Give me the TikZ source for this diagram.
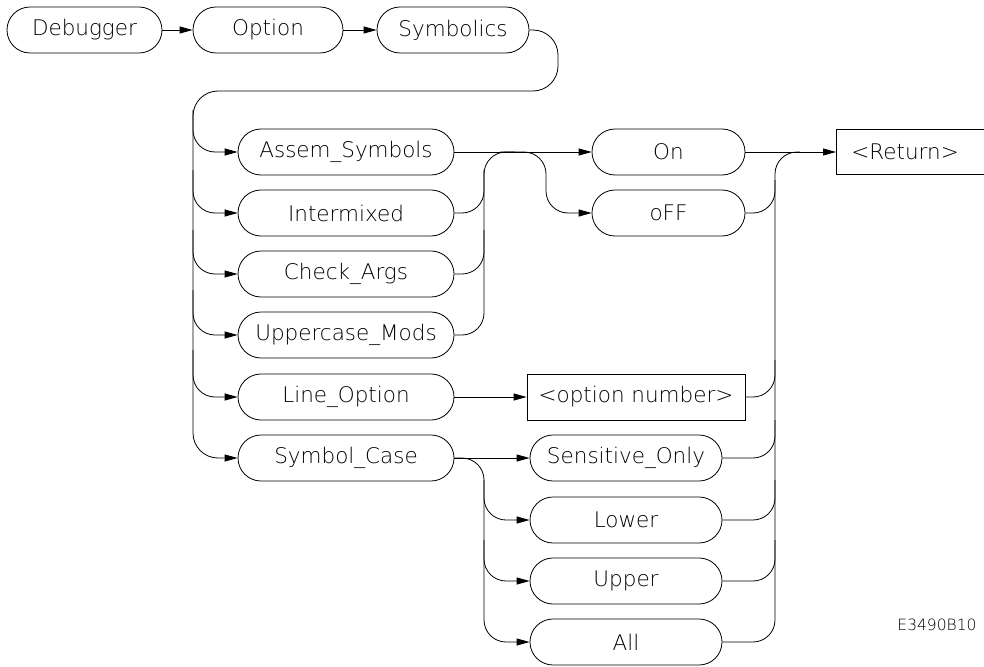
\documentclass[tikz,border=0pt]{standalone}
\usepackage{fontspec}
\setmainfont{DejaVu Sans ExtraLight}
\usetikzlibrary{arrows.meta,shapes.misc}
\begin{document}
\begin{tikzpicture}[x=1pt,y=-1pt,
  lbl/.style={font=\fontsize{21.5}{24}\selectfont},
  term/.style={draw, rounded rectangle, minimum height=46pt, inner sep=0pt, line width=0.8pt, lbl},
  lit/.style={draw, rectangle, minimum height=46pt, inner sep=0pt, line width=0.8pt, lbl},
  conn/.style={line width=0.8pt},
  arr/.style={conn, -{Triangle[length=13pt,width=7pt]}},
  rc/.style={rounded corners=22pt}]
\clip (0,0) rectangle (984,666);
% top row
\node[term, minimum width=155pt] (deb) at (84.5,30) {Debugger};
\node[term, minimum width=150pt] (opt) at (268,30) {Option};
\node[term, minimum width=152pt] (sym) at (453,30) {Symbolics};
% left column
\node[term, minimum width=216pt] (assem) at (346,152) {Assem\_Symbols};
\node[term, minimum width=216pt] (inter) at (346,213) {Intermixed};
\node[term, minimum width=216pt] (check) at (346,274) {Check\_Args};
\node[term, minimum width=216pt] (upmods) at (346,335) {Uppercase\_Mods};
\node[term, minimum width=216pt] (lineopt) at (346,397) {Line\_Option};
\node[term, minimum width=216pt] (symcase) at (346,458) {Symbol\_Case};
% middle column
\node[term, minimum width=153pt] (on) at (668.5,152) {On};
\node[term, minimum width=153pt] (off) at (668.5,213) {oFF};
\node[lit, minimum width=218pt] (optnum) at (636,397) {<option number>};
\node[term, minimum width=192pt] (sens) at (626,458) {Sensitive\_Only};
\node[term, minimum width=192pt] (lower) at (626,520) {Lower};
\node[term, minimum width=192pt] (upper) at (626,581) {Upper};
\node[term, minimum width=192pt] (all) at (626,642) {All};
% return
\node[lit, anchor=west, text width=150pt, align=left, inner xsep=15pt, minimum height=45pt] (ret) at (836,152) {<Return>};
\node[font=\fontsize{15.5}{18}\selectfont] (code) at (937,625) {E3490B10};
% top connectors
\draw[arr] (deb.east) -- (opt.west);
\draw[arr] (opt.east) -- (sym.west);
\draw[arr, rounded corners=25pt] (sym.east) -| (558,91) -| (193,458) -- (symcase.west);
% left branches
\draw[arr, rc] (193,110) |- (assem.west);
\draw[arr, rc] (193,170) |- (inter.west);
\draw[arr, rc] (193,230) |- (check.west);
\draw[arr, rc] (193,290) |- (upmods.west);
\draw[arr, rc] (193,350) |- (lineopt.west);
% assem etc. to on/off
\draw[arr] (assem.east) -- (on.west);
\draw[conn, rc] (upmods.east) -| (484,152) -- (515,152);
\draw[conn, rc] (inter.east) -| (484,170);
\draw[conn, rc] (check.east) -| (484,230);
\draw[arr, rc] (500,152) -| (546,213) -- (off.west);
% line option
\draw[arr] (lineopt.east) -- (optnum.west);
% symbol case
\draw[arr] (symcase.east) -- (sens.west);
\draw[arr, rc] (symcase.east) -| (484,642) -- (all.west);
\draw[arr, rc] (484,480) |- (lower.west);
\draw[arr, rc] (484,540) |- (upper.west);
% merge to return
\draw[arr] (on.east) -- (ret.west);
\draw[conn, rc] (all.east) -| (775,152) -- (800,152);
\draw[conn, rc] (off.east) -| (775,180);
\draw[conn, rc] (optnum.east) -| (775,360);
\draw[conn, rc] (sens.east) -| (775,420);
\draw[conn, rc] (lower.east) -| (775,480);
\draw[conn, rc] (upper.east) -| (775,540);
\end{tikzpicture}
\end{document}
